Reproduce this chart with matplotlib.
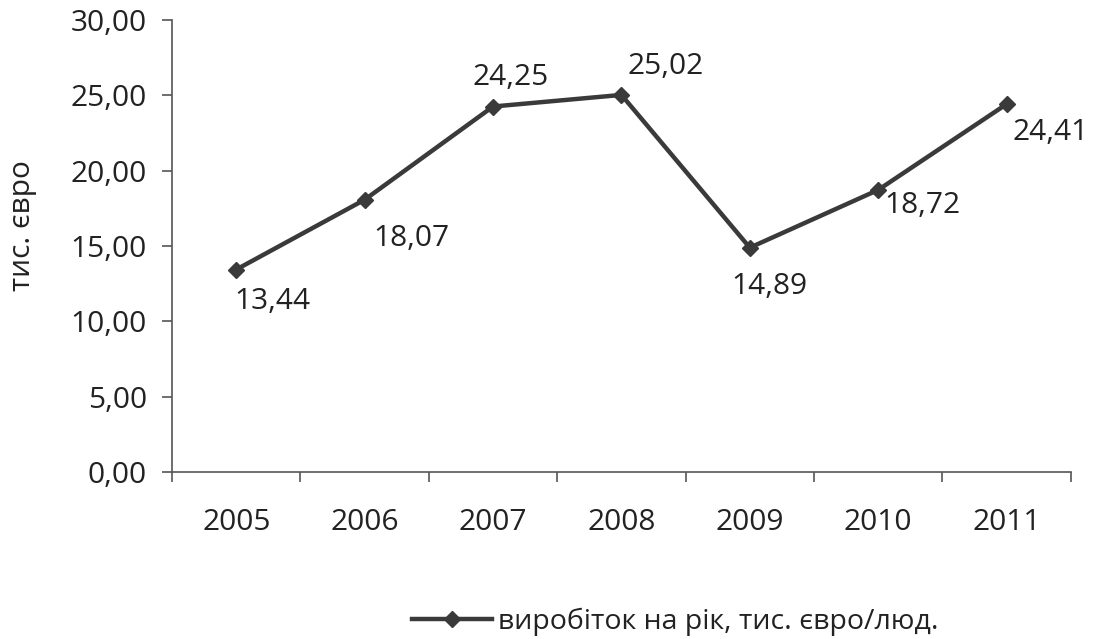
import matplotlib
matplotlib.use('Agg')
import matplotlib.pyplot as plt

# Data
years = ['2005', '2006', '2007', '2008', '2009', '2010', '2011']
output = [13.44, 18.07, 24.25, 25.02, 14.89, 18.72, 24.41]
y_ticks = [0, 5, 10, 15, 20, 25, 30]

# label offsets in pixels (dx right, dy down) relative to each point
label_offsets = [(36, 32), (47, 39), (18, -29), (44, -28), (20, 39), (44, 16), (44, 28)]

plt.rcParams['font.family'] = ['Open Sans', 'DejaVu Sans']
dark = '#3a3a3a'
txt = '#222222'
fs = 21.5

fig = plt.figure(figsize=(10.96, 6.39), dpi=100)
ax = fig.add_axes([0.157, 0.261, 0.820, 0.708])

x = list(range(len(years)))
line, = ax.plot(x, output, color=dark, lw=3.2, marker='D', markersize=8,
                label='виробіток на рік, тис. євро/люд.')

for i, v in enumerate(output):
    dx, dy = label_offsets[i]
    ax.annotate(('%.2f' % v).replace('.', ','), (x[i], v),
                xytext=(dx * 0.72, -dy * 0.72), textcoords='offset points',
                ha='center', va='center', fontsize=fs, color=txt)

ax.set_xlim(-0.5, len(years) - 0.5)
ax.set_ylim(0, 30)
ax.set_yticks(y_ticks)
ax.set_yticklabels([('%.2f' % t).replace('.', ',') for t in y_ticks], fontsize=fs, color=txt)
ax.set_xticks(x)
ax.set_xticklabels(years, fontsize=fs, color=txt)
ax.set_xticks([i - 0.5 for i in range(len(years) + 1)], minor=True)
ax.tick_params(axis='x', which='major', length=0, pad=26)
ax.tick_params(axis='x', which='minor', length=7, direction='out', color='#555555', width=1.2)
ax.tick_params(axis='y', length=7, direction='out', color='#555555', width=1.2, pad=11)

for s in ['top', 'right']:
    ax.spines[s].set_visible(False)
ax.spines['left'].set_color('#555555')
ax.spines['bottom'].set_color('#555555')
ax.spines['left'].set_linewidth(1.2)
ax.spines['bottom'].set_linewidth(1.2)

ax.set_ylabel('тис. євро', fontsize=fs, color=txt)
ax.yaxis.set_label_coords(-0.150, 0.546)

fig.legend(handles=[line], loc='center', bbox_to_anchor=(0.616, 0.027), frameon=False,
           fontsize=20.5, handlelength=2.8, handletextpad=0.2, labelcolor=txt)

fig.savefig('out.png', dpi=100, facecolor='white')
